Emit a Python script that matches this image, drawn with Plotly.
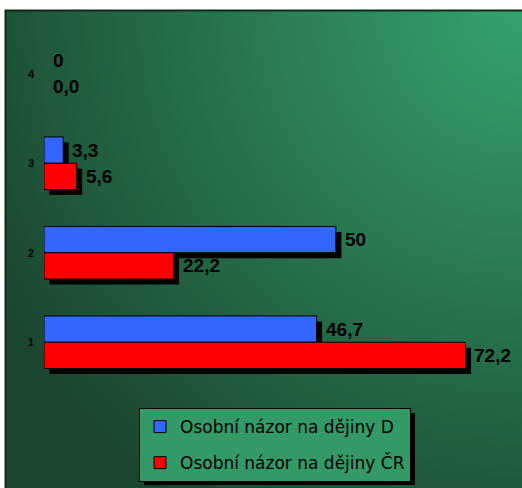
import base64
import plotly.graph_objects as go

# Survey answers per category (percent)
categories = ["1", "2", "3", "4"]
names = ["Osobní názor na dějiny D", "Osobní názor na dějiny ČR"]
values_d = [46.7, 50.0, 3.3, 0.0]
values_cr = [72.2, 22.2, 5.6, 0.0]

W, H = 522, 488
M_L, M_R, M_T, M_B = 44, 11, 29, 101
PLOT_W = W - M_L - M_R
PLOT_H = H - M_T - M_B
X_MAX = 80.0
BAR_W = 0.294
SHADOW_PX = 5.5

pos = list(range(len(categories)))
dx = SHADOW_PX * X_MAX / PLOT_W           # shadow shift in x units
dy = SHADOW_PX * len(categories) / PLOT_H  # shadow shift in category units


def px_to_paper_x(px):
    return (px - M_L) / PLOT_W


def px_to_paper_y(py):
    return (H - M_B - py) / PLOT_H


def fmt_general(v):
    return f"{v:g}".replace(".", ",")


def fmt_one(v):
    return f"{v:.1f}".replace(".", ",")


# green corner gradient behind the whole chart
svg = (
    '<svg xmlns="http://www.w3.org/2000/svg" width="517" height="478" '
    'viewBox="0 0 517 478" preserveAspectRatio="none"><defs>'
    '<radialGradient id="g" cx="517" cy="0" r="600" gradientUnits="userSpaceOnUse">'
    '<stop offset="0" stop-color="#36a36e"/>'
    '<stop offset="1" stop-color="#1a462f"/>'
    '</radialGradient></defs>'
    '<rect width="517" height="478" fill="url(#g)"/></svg>'
)
bg_src = "data:image/svg+xml;base64," + base64.b64encode(svg.encode()).decode()

series = [
    (names[0], values_d, "#3366ff", 0.0, fmt_general),
    (names[1], values_cr, "#ff0000", -BAR_W, fmt_one),
]

fig = go.Figure()

# drop shadows first, so the bars cover them
for name, vals, color, off, _ in series:
    fig.add_trace(go.Bar(
        x=vals, y=pos, base=[dx] * len(vals), orientation="h",
        width=BAR_W, offset=off - dy,
        marker=dict(color="black", line=dict(width=0)),
        showlegend=False, hoverinfo="skip",
    ))

for name, vals, color, off, _ in series:
    fig.add_trace(go.Bar(
        x=vals, y=pos, orientation="h", name=name, legendgroup=name,
        width=BAR_W, offset=off,
        marker=dict(color=color,
                    line=dict(color="black", width=[1 if v > 0 else 0 for v in vals])),
    ))

annotations = []
for name, vals, color, off, fmt in series:
    for p, v in zip(pos, vals):
        annotations.append(dict(
            x=v, y=p + off + BAR_W / 2, xref="x", yref="y",
            text=fmt(v), showarrow=False, xanchor="left", yanchor="middle",
            xshift=7,
            font=dict(family="Liberation Sans", size=19, color="black", weight="bold"),
        ))

# legend box position (pixels)
LEG_L, LEG_T, LEG_R, LEG_B = 139, 408, 410, 480

shapes = [
    # outer frame of the chart area
    dict(type="rect", xref="paper", yref="paper",
         x0=px_to_paper_x(5.5), x1=px_to_paper_x(W + 5),
         y0=px_to_paper_y(H + 5), y1=px_to_paper_y(10.5),
         line=dict(color="#0e2a1b", width=2), fillcolor="rgba(0,0,0,0)", layer="below"),
    # legend shadow
    dict(type="rect", xref="paper", yref="paper",
         x0=px_to_paper_x(LEG_L + 5), x1=px_to_paper_x(LEG_R + 5),
         y0=px_to_paper_y(LEG_B + 5), y1=px_to_paper_y(LEG_T + 5),
         line=dict(width=0), fillcolor="black", layer="above"),
]

fig.update_layout(
    width=W, height=H,
    margin=dict(l=M_L, r=M_R, t=M_T, b=M_B, pad=0, autoexpand=False),
    paper_bgcolor="white",
    plot_bgcolor="rgba(0,0,0,0)",
    barmode="overlay",
    images=[dict(
        source=bg_src, xref="paper", yref="paper",
        x=px_to_paper_x(5), y=px_to_paper_y(10),
        sizex=(W - 5) / PLOT_W, sizey=(H - 10) / PLOT_H,
        xanchor="left", yanchor="top", sizing="stretch", layer="below",
    )],
    xaxis=dict(range=[0, X_MAX], visible=False, fixedrange=True),
    yaxis=dict(
        range=[-0.5, len(categories) - 0.5],
        tickvals=pos, ticktext=categories,
        showgrid=False, zeroline=False, showline=False, ticks="",
        ticklabelstandoff=9,
        tickfont=dict(family="Liberation Sans", size=11, color="black", weight="bold"),
    ),
    legend=dict(
        x=px_to_paper_x(LEG_L), y=px_to_paper_y(LEG_T),
        xanchor="left", yanchor="top",
        bgcolor="#339966", bordercolor="black", borderwidth=1,
        font=dict(family="DejaVu Sans", size=17, color="black"),
        traceorder="grouped", tracegroupgap=11,
    ),
    annotations=annotations,
    shapes=shapes,
    showlegend=True,
)

fig.write_html("out.html")
